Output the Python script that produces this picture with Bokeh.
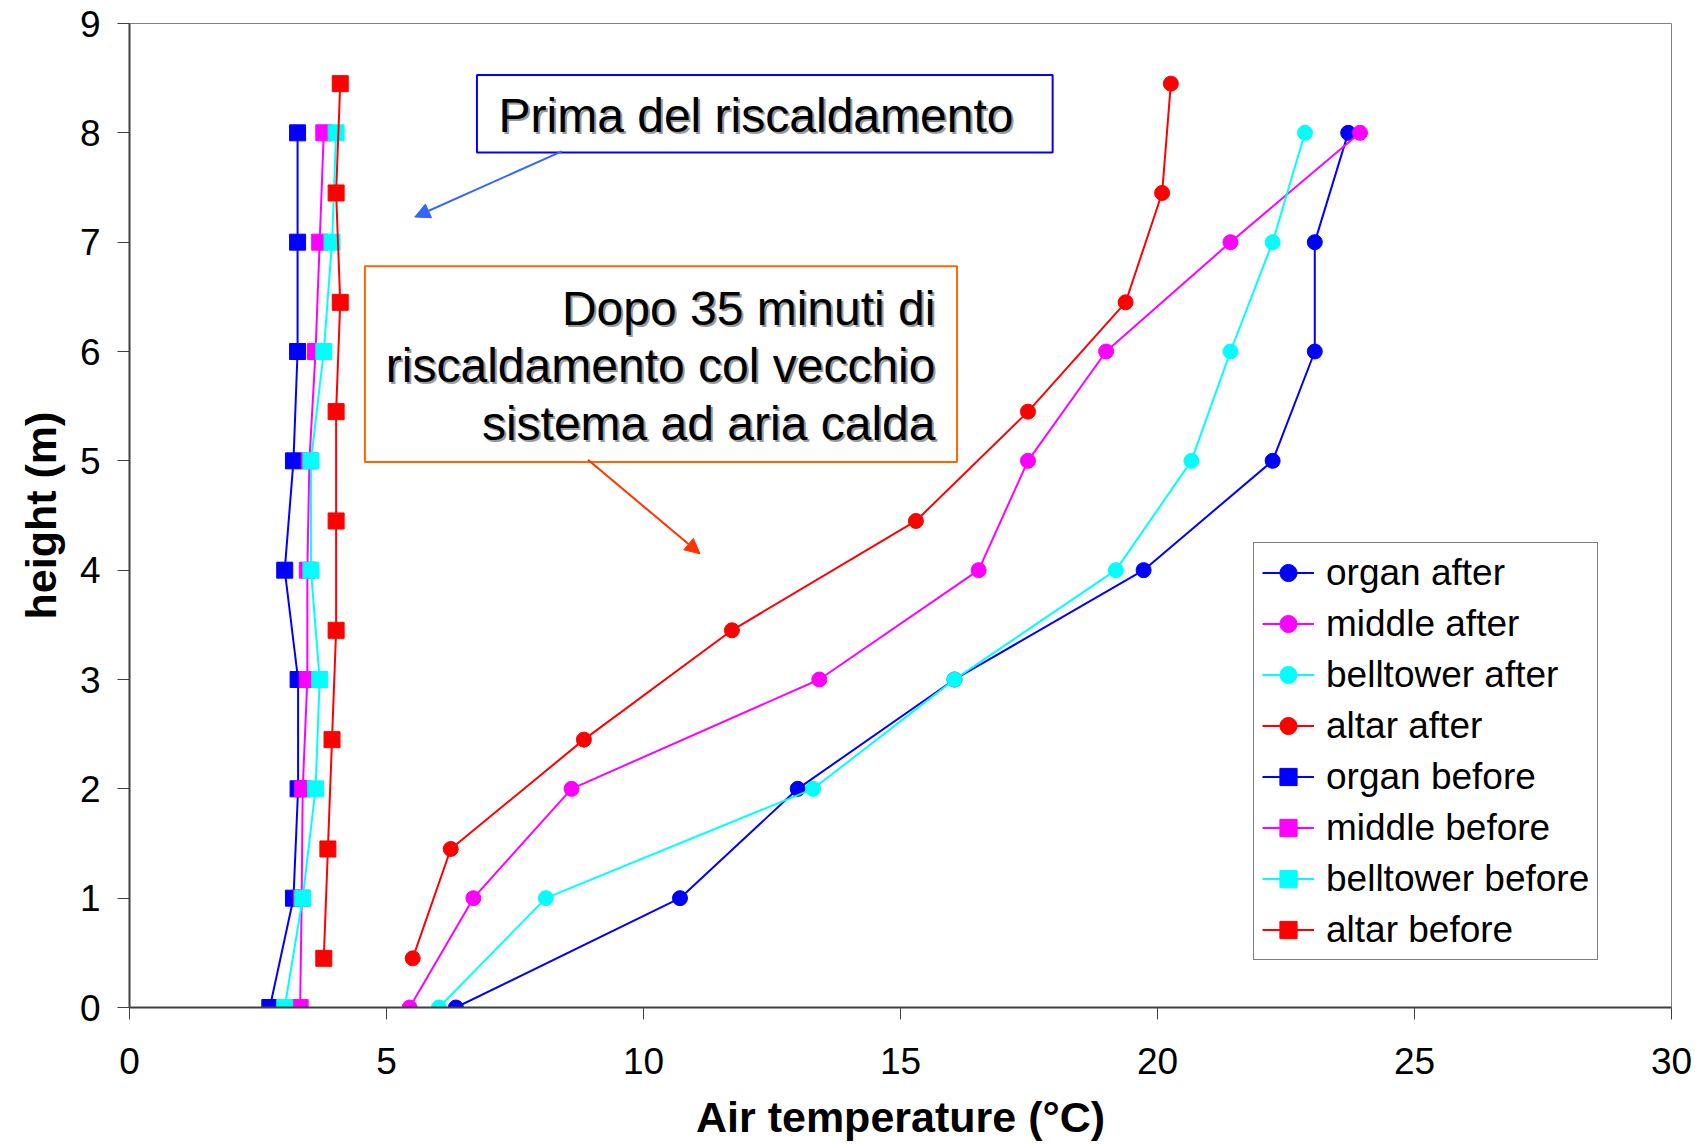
from bokeh.plotting import figure
from bokeh.models import Range1d, FixedTicker, Legend, LegendItem, BoxAnnotation, Arrow, NormalHead
from bokeh.core.properties import value
from bokeh.embed import file_html
from bokeh.resources import INLINE

FONT = "Liberation Sans"

# ---- data ----
heights = [0, 1, 2, 3, 4, 5, 6, 7, 8]
altar_heights = [0.45, 1.45, 2.45, 3.45, 4.45, 5.45, 6.45, 7.45, 8.45]

organ_after = [6.35, 10.71, 13.0, 16.05, 19.73, 22.24, 23.06, 23.06, 23.71]
middle_after = [5.45, 6.69, 8.6, 13.42, 16.52, 17.48, 19.0, 21.42, 23.94]
belltower_after = [6.02, 8.1, 13.3, 16.05, 19.19, 20.66, 21.42, 22.24, 22.87]
altar_after = [5.51, 6.25, 8.84, 11.72, 15.3, 17.48, 19.38, 20.09, 20.26]

organ_before = [2.73, 3.19, 3.28, 3.28, 3.02, 3.19, 3.27, 3.27, 3.27]
middle_before = [3.32, 3.35, 3.37, 3.46, 3.46, 3.50, 3.62, 3.70, 3.78]
belltower_before = [3.02, 3.37, 3.62, 3.70, 3.53, 3.53, 3.78, 3.94, 4.02]
altar_before = [3.78, 3.86, 3.94, 4.02, 4.02, 4.02, 4.10, 4.02, 4.10]

x_ticks = [0, 5, 10, 15, 20, 25, 30]
y_ticks = [0, 1, 2, 3, 4, 5, 6, 7, 8, 9]

series = [
    ("organ after", organ_after, heights, "#0000FF", "circle"),
    ("middle after", middle_after, heights, "#FF00FF", "circle"),
    ("belltower after", belltower_after, heights, "#00FFFF", "circle"),
    ("altar after", altar_after, altar_heights, "#FF0000", "circle"),
    ("organ before", organ_before, heights, "#0000FF", "square"),
    ("middle before", middle_before, heights, "#FF00FF", "square"),
    ("belltower before", belltower_before, heights, "#00FFFF", "square"),
    ("altar before", altar_before, altar_heights, "#FF0000", "square"),
]

p = figure(width=1696, height=1144, output_backend="svg", toolbar_location=None,
           x_range=Range1d(0, 30), y_range=Range1d(0, 9),
           min_border_left=129, min_border_right=25, min_border_top=23, min_border_bottom=137)
p.background_fill_color = "white"
p.border_fill_color = "white"
p.outline_line_color = "#808080"
p.outline_line_width = 1
p.xgrid.grid_line_color = None
p.ygrid.grid_line_color = None

for ax, ticks in ((p.xaxis, x_ticks), (p.yaxis, y_ticks)):
    ax.ticker = FixedTicker(ticks=ticks)
    ax.major_label_text_font = FONT
    ax.major_label_text_font_size = "37px"
    ax.major_label_text_color = "black"
    ax.axis_label_text_font = FONT
    ax.axis_label_text_font_size = "43px"
    ax.axis_label_text_font_style = "bold"
    ax.axis_label_text_color = "black"
    ax.major_tick_out = 12
    ax.major_tick_in = 0
    ax.minor_tick_line_color = None
    ax.axis_line_color = "#404040"
    ax.axis_line_width = 2
    ax.major_tick_line_color = "#404040"

p.xaxis.axis_label = "Air temperature (°C)"
p.yaxis.axis_label = "height (m)"
p.xaxis.major_label_standoff = 28
p.xaxis.axis_label_standoff = 16
p.yaxis.major_label_standoff = 17
p.yaxis.axis_label_standoff = 12

items = []
for name, xs, ys, color, marker in series:
    r1 = p.line(xs, ys, line_color=color, line_width=2)
    size = 15 if marker == "circle" else 16
    r2 = p.scatter(xs, ys, marker=marker, size=size, fill_color=color, line_color=color)
    items.append(LegendItem(label=name, renderers=[r1, r2]))

legend = Legend(items=items, location=(1124, 47))
legend.label_text_font = FONT
legend.label_text_font_size = "37px"
legend.label_text_color = "black"
legend.glyph_width = 52
legend.glyph_height = 43
legend.label_height = 43
legend.label_standoff = 12
legend.spacing = 8
legend.padding = 8
legend.margin = 0
legend.border_line_color = "black"
legend.border_line_width = 1
legend.background_fill_color = "white"
legend.background_fill_alpha = 1
p.add_layout(legend)

# annotation boxes
p.add_layout(BoxAnnotation(left=6.76, right=17.96, bottom=7.82, top=8.53,
                           fill_alpha=0, line_color="#0000FF", line_alpha=1, line_width=2))
p.add_layout(BoxAnnotation(left=4.58, right=16.10, bottom=4.99, top=6.78,
                           fill_alpha=0, line_color="#FF6600", line_alpha=1, line_width=2))

# arrows
p.add_layout(Arrow(end=NormalHead(size=15, fill_color="#3366FF", line_color="#3366FF"),
                   x_start=8.41, y_start=7.83, x_end=5.55, y_end=7.23,
                   line_color="#3366FF", line_width=2))
p.add_layout(Arrow(end=NormalHead(size=15, fill_color="#FF3300", line_color="#FF3300"),
                   x_start=8.92, y_start=5.01, x_end=11.10, y_end=4.15,
                   line_color="#FF3300", line_width=2))

# texts with shadow
def shadow_text(xs, ys, texts, align):
    p.text(xs, ys, text=texts, text_font=value(FONT), text_font_size="48px",
           text_color="#9A9A9A", text_align=align, text_baseline="middle",
           x_offset=2, y_offset=2)
    p.text(xs, ys, text=texts, text_font=value(FONT), text_font_size="48px",
           text_color="black", text_align=align, text_baseline="middle")

shadow_text([7.18], [8.16], ["Prima del riscaldamento"], "left")
shadow_text([15.68, 15.68, 15.68], [6.39, 5.87, 5.34],
            ["Dopo 35 minuti di", "riscaldamento col vecchio", "sistema ad aria calda"], "right")

open("out.html", "w").write(file_html(p, INLINE))
